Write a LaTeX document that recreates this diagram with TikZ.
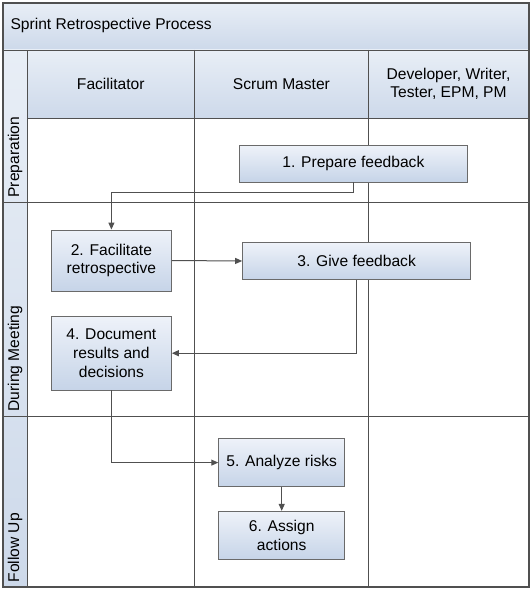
\documentclass[tikz,border=0pt]{standalone}
\usepackage{fontspec}
\setmainfont{Liberation Sans}
\usetikzlibrary{arrows.meta}

\definecolor{lineclr}{HTML}{505050}
\definecolor{boxtop}{HTML}{EEF2F9}
\definecolor{boxbot}{HTML}{C6D4E8}
\definecolor{bandtop}{HTML}{E8EEF6}
\definecolor{bandbot}{HTML}{CDD9EA}

\tikzset{
	stepbox/.style={draw=lineclr!85,line width=0.9pt,top color=boxtop,bottom color=boxbot,
		align=center,inner sep=0pt,font=\fontsize{15.6}{18.6}\selectfont},
	band/.style={draw=lineclr,line width=0.9pt,top color=bandtop,bottom color=bandbot},
	flow/.style={draw=lineclr,line width=1pt,-{Triangle[length=7pt,width=6pt]}},
	lanetxt/.style={font=\fontsize{15.6}{18.6}\selectfont,align=center}
}

\begin{document}
\begin{tikzpicture}
	[x={(1pt,0)},y={(0,-1pt)}]
	
	\useasboundingbox (0,0) rectangle (531,591);
	
	% bands
	\draw[band] (3,3) rectangle (529,50);
	\draw[band] (27,50) rectangle (529,118);
	\draw[band] (3,50) rectangle (27,587);
	\draw[lineclr,line width=0.9pt] (27,118) rectangle (529,587);
	\draw[lineclr,line width=0.9pt] (194.7,50) -- (194.7,587);
	\draw[lineclr,line width=0.9pt] (368,50) -- (368,587);
	\draw[lineclr,line width=0.9pt] (3,202.3) -- (529,202.3);
	\draw[lineclr,line width=0.9pt] (3,416) -- (529,416);
	\draw[lineclr,line width=1.3pt] (3,3) rectangle (529,587);
	
	\node[lanetxt,anchor=west] (title) at (7,25){Sprint Retrospective Process};
	\node[lanetxt] (facil) at (110.8,84){Facilitator};
	\node[lanetxt] (scrum) at (281.4,84){Scrum Master};
	\node[lanetxt] (devs) at (448.5,84){Developer, Writer,\\Tester, EPM, PM};
	\node[lanetxt,rotate=90,anchor=west] (prep) at (15,201){Preparation};
	\node[lanetxt,rotate=90,anchor=west] (during) at (15,415){During Meeting};
	\node[lanetxt,rotate=90,anchor=west] (follow) at (15,586){Follow Up};
	
	% steps
	\node[stepbox,minimum width=228,minimum height=36.6] (p1) at (353.4,163.7){1. Prepare feedback};
	\node[stepbox,minimum width=120,minimum height=61] (p2) at (111.4,260.5){2. Facilitate\\retrospective};
	\node[stepbox,minimum width=228,minimum height=36.6] (p3) at (356.6,261){3. Give feedback};
	\node[stepbox,minimum width=120,minimum height=73.6] (p4) at (111.4,353.2){4. Document\\results and\\decisions};
	\node[stepbox,minimum width=126,minimum height=48] (p5) at (281.7,462.6){5. Analyze risks};
	\node[stepbox,minimum width=126,minimum height=48.5] (p6) at (281.7,535.6){6. Assign\\actions};
	
	\draw[flow] (p1.south) -- ++(0,10) -| (p2.north);
	\draw[flow] (p2.east) -- (p3.west);
	\draw[flow] (p3.south) |- (p4.east);
	\draw[flow] (p4.south) |- (p5.west);
	\draw[flow] (p5.south) -- (p6.north);
	
\end{tikzpicture}
\end{document}
